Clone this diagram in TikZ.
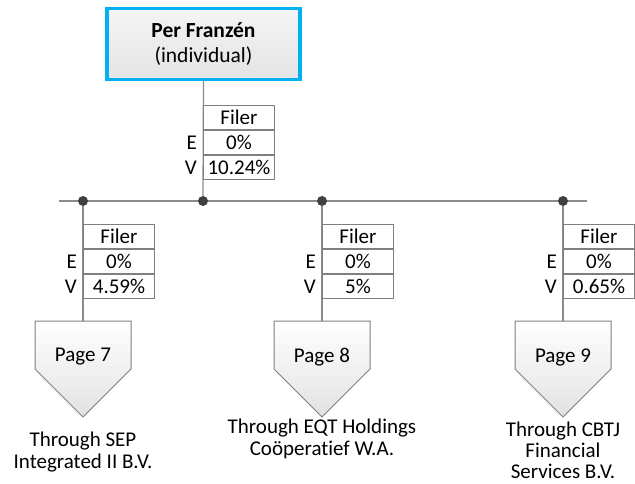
\documentclass[tikz,border=0pt]{standalone}
\usepackage{fontspec}
\setmainfont[Ligatures=CommonOff]{Carlito}
\definecolor{linegray}{HTML}{8C8C8C}
\definecolor{cellgray}{HTML}{7F7F7F}
\definecolor{dotgray}{HTML}{404040}
\definecolor{blueb}{HTML}{00B0F0}
\definecolor{boxgray}{HTML}{E4E4E4}
\definecolor{pentgray}{HTML}{E2E2E2}
\begin{document}
\begin{tikzpicture}[x=1pt,y=-1pt,
  conn/.style={draw=linegray,line width=1.3pt},
  cell/.style={draw=cellgray,line width=1pt,fill=white,minimum width=71pt,minimum height=24pt,inner sep=0pt,font=\fontsize{21}{22}\selectfont},
  lbl/.style={anchor=east,inner sep=0pt,font=\fontsize{21}{22}\selectfont},
  jdot/.style={circle,fill=dotgray,minimum size=10pt,inner sep=0pt},
  txt/.style={align=center,inner sep=0pt,font=\fontsize{21}{21.5}\selectfont},
  pent/.style={draw=cellgray,line width=1pt,top color=white,bottom color=pentgray}]
\useasboundingbox (0,0) rectangle (635,484);

% top box
\node[draw=blueb,line width=3.5pt,top color=white!60!boxgray,bottom color=boxgray,
      minimum width=193pt,minimum height=71pt,align=center,inner sep=0pt,
      font=\fontsize{21.5}{25}\selectfont] (top) at (203.5,44) {\textbf{Per Franzén}\\(individual)};

% junction line and dots
\coordinate (hl) at (59,201);
\coordinate (hr) at (587,201);
\draw[conn] (hl) -- (hr);
\node[jdot] (d0) at (203,201) {};
\node[jdot] (d1) at (83,201) {};
\node[jdot] (d2) at (322,201) {};
\node[jdot] (d3) at (563,201) {};
\draw[conn] (top.south) -- (d0);

% pentagons (off-page connectors)
\foreach \x/\n/\pg in {83/1/7,322/2/8,563/3/9}{
  \coordinate (p\n top) at (\x,321);
  \draw[conn] (d\n) -- (p\n top);
  \path[pent] (\x-48,321) -- (\x+48,321) -- (\x+48,369) -- (\x,417) -- (\x-48,369) -- cycle;
  \node[txt] (pg\n) at (\x,357) {Page \pg};
}

% tables
\foreach \n/\x/\y/\v in {0/203/105/10.24\%,1/83/224/4.59\%,2/322/224/5\%,3/563/224/0.65\%}{
  \node[cell,anchor=north west] (t\n a) at (\x,\y) {Filer};
  \node[cell,anchor=north] (t\n b) at (t\n a.south) {0\%};
  \node[cell,anchor=north] (t\n c) at (t\n b.south) {\v};
  \node[lbl] (e\n) at ([xshift=-6pt]t\n b.west) {E};
  \node[lbl] (v\n) at ([xshift=-6pt]t\n c.west) {V};
}

% labels
\node[txt] (l1) at (83,452) {Through SEP\\Integrated II B.V.};
\node[txt] (l2) at (322,439) {Through EQT Holdings\\Coöperatief W.A.};
\node[txt,font=\fontsize{21}{21}\selectfont] (l3) at (563,450) {Through CBTJ\\Financial\\Services B.V.};
\end{tikzpicture}
\end{document}
